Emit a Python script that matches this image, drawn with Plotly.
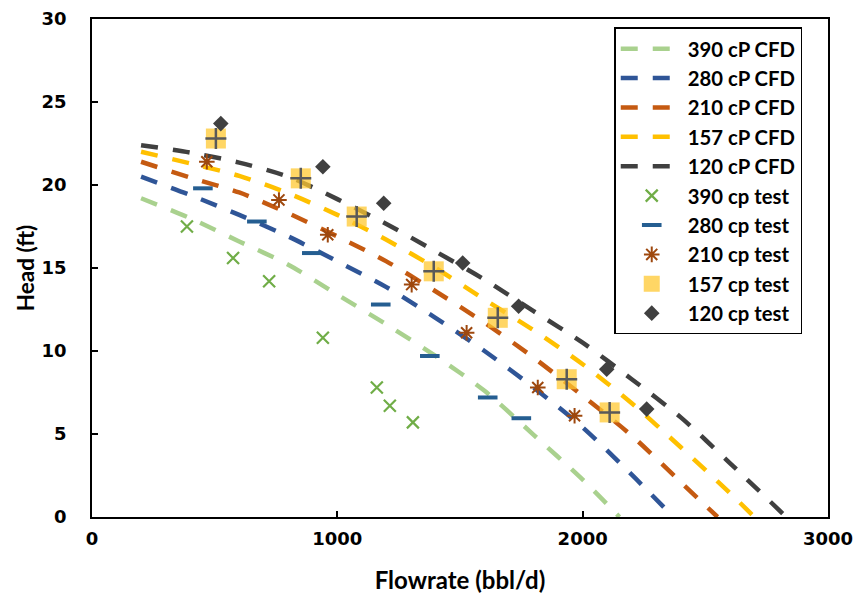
import plotly.graph_objects as go

# CFD curves (flowrate bbl/d, head ft)
cfd_x_390 = [200, 400, 600, 800, 1000, 1200, 1400, 1600, 1800, 2000, 2150]
cfd_y_390 = [19.2, 18.0, 16.6, 15.2, 13.4, 11.6, 9.7, 7.6, 4.95, 2.25, 0]
cfd_x_280 = [200, 400, 600, 800, 1000, 1200, 1400, 1600, 1800, 2000, 2200, 2370]
cfd_y_280 = [20.5, 19.4, 18.2, 16.9, 15.4, 13.85, 12.0, 10.0, 7.8, 5.4, 2.55, 0]
cfd_x_210 = [200, 400, 600, 800, 1000, 1200, 1400, 1600, 1800, 2000, 2200, 2400, 2550]
cfd_y_210 = [21.4, 20.45, 19.55, 18.3, 16.9, 15.4, 13.6, 11.7, 9.6, 7.3, 4.9, 2.1, 0]
cfd_x_157 = [200, 400, 600, 800, 1000, 1200, 1400, 1600, 1800, 2000, 2200, 2400, 2600, 2700]
cfd_y_157 = [22.0, 21.3, 20.55, 19.5, 18.2, 16.7, 15.0, 13.1, 11.25, 9.2, 6.85, 4.2, 1.45, 0]
cfd_x_120 = [200, 400, 600, 800, 1000, 1200, 1400, 1600, 1800, 2000, 2200, 2400, 2600, 2830]
cfd_y_120 = [22.4, 21.95, 21.35, 20.5, 19.15, 17.65, 16.0, 14.3, 12.4, 10.5, 8.3, 6.0, 3.25, 0]

# Test data
test_x_390 = [387, 575, 722, 941, 1161, 1214, 1308]
test_y_390 = [17.5, 15.6, 14.2, 10.8, 7.8, 6.7, 5.7]
test_x_280 = [452, 672, 896, 1177, 1377, 1613, 1750]
test_y_280 = [19.8, 17.8, 15.9, 12.8, 9.7, 7.2, 5.95]
test_x_210 = [468, 762, 961, 1303, 1527, 1817, 1967]
test_y_210 = [21.4, 19.1, 17.0, 14.0, 11.1, 7.8, 6.1]
test_x_157 = [505, 851, 1079, 1393, 1654, 1935, 2110]
test_y_157 = [22.8, 20.4, 18.1, 14.8, 12.0, 8.3, 6.3]
test_x_120 = [525, 941, 1189, 1511, 1739, 2098, 2261]
test_y_120 = [23.7, 21.1, 18.9, 15.3, 12.7, 8.9, 6.5]

x_ticks = [0, 1000, 2000, 3000]
y_ticks = [0, 5, 10, 15, 20, 25, 30]

TEXT_FONT = "Lato"
TICK_FONT = "DejaVu Sans"

fig = go.Figure()

cfd_series = [
    ("390 cP CFD", cfd_x_390, cfd_y_390, "#A9D18E"),
    ("280 cP CFD", cfd_x_280, cfd_y_280, "#2F5597"),
    ("210 cP CFD", cfd_x_210, cfd_y_210, "#C55A11"),
    ("157 cP CFD", cfd_x_157, cfd_y_157, "#FFC000"),
    ("120 cP CFD", cfd_x_120, cfd_y_120, "#404040"),
]
for name, xs, ys, col in cfd_series:
    fig.add_trace(go.Scatter(
        x=xs, y=ys, mode="lines", name=name, legendgroup=name,
        line=dict(color=col, width=4.5, dash="17px,15px", shape="spline", smoothing=0.8),
    ))

fig.add_trace(go.Scatter(
    x=test_x_390, y=test_y_390, mode="markers", name="390 cp test", legendgroup="t390",
    marker=dict(symbol="x-thin-open", size=12, color="#70AD47", line=dict(color="#70AD47", width=2.2)),
))
fig.add_trace(go.Scatter(
    x=test_x_280, y=test_y_280, mode="markers", name="280 cp test", legendgroup="t280",
    marker=dict(symbol="line-ew-open", size=14, color="#255E91", line=dict(color="#255E91", width=4)),
))
fig.add_trace(go.Scatter(
    x=test_x_210, y=test_y_210, mode="markers", name="210 cp test", legendgroup="t210",
    marker=dict(symbol="asterisk-open", size=13, color="#9E480E", line=dict(color="#9E480E", width=2)),
))
fig.add_trace(go.Scatter(
    x=test_x_157, y=test_y_157, mode="markers", name="157 cp test", legendgroup="t157",
    marker=dict(symbol="square", size=20, color="rgba(255,200,50,0.75)", line=dict(width=0)),
))
fig.add_trace(go.Scatter(
    x=test_x_157, y=test_y_157, mode="markers", name="157 cp test", legendgroup="t157",
    showlegend=False,
    marker=dict(symbol="cross-thin-open", size=15, color="#595959", line=dict(color="#595959", width=2.5)),
))
fig.add_trace(go.Scatter(
    x=test_x_120, y=test_y_120, mode="markers", name="120 cp test", legendgroup="t120",
    marker=dict(symbol="diamond", size=12, color="#404040", line=dict(width=0)),
))

fig.update_layout(
    width=856, height=601,
    margin=dict(l=92, r=28, t=19, b=84),
    paper_bgcolor="white", plot_bgcolor="white",
    font=dict(family=TEXT_FONT, color="#000000"),
    legend=dict(
        x=0.965, y=0.983, xanchor="right", yanchor="top",
        bordercolor="#000000", borderwidth=1.5, bgcolor="white",
        font=dict(family=TEXT_FONT, size=20.3, color="#000000", weight="bold"),
        traceorder="grouped", tracegroupgap=0, itemwidth=62,
    ),
    xaxis=dict(
        range=[0, 3000], tickvals=x_ticks, ticktext=[str(v) for v in x_ticks],
        showgrid=False, zeroline=False, automargin=False,
        showline=True, linecolor="#000000", linewidth=1.5, mirror=True,
        ticks="inside", ticklen=6, tickwidth=1.5, tickcolor="#000000",
        tickfont=dict(family=TICK_FONT, size=18, color="#000000", weight="bold"),
        ticklabelstandoff=5,
        title=dict(text="Flowrate (bbl/d)", standoff=24,
                   font=dict(family=TEXT_FONT, size=24, color="#000000", weight="bold")),
    ),
    yaxis=dict(
        range=[0, 30], tickvals=y_ticks, ticktext=[str(v) for v in y_ticks],
        showgrid=False, zeroline=False, automargin=False,
        showline=True, linecolor="#000000", linewidth=1.5, mirror=True,
        ticks="inside", ticklen=6, tickwidth=1.5, tickcolor="#000000",
        tickfont=dict(family=TICK_FONT, size=18, color="#000000", weight="bold"),
        ticklabelstandoff=20,
        title=dict(text="Head (ft)", standoff=1,
                   font=dict(family=TEXT_FONT, size=22.5, color="#000000", weight="bold")),
    ),
)

fig.write_html("out.html")
